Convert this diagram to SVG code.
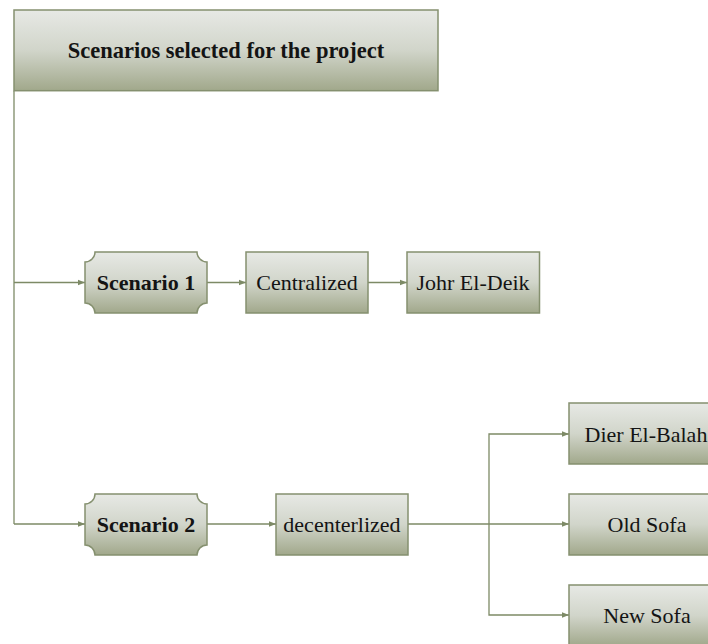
<svg xmlns="http://www.w3.org/2000/svg" width="708" height="644" viewBox="0 0 708 644">
<defs>
<linearGradient id="g" x1="0" y1="0" x2="0" y2="1">
<stop offset="0" stop-color="#e7e9e5"/>
<stop offset="0.5" stop-color="#d1d5ca"/>
<stop offset="1" stop-color="#a1a88b"/>
</linearGradient>
<marker id="ah" viewBox="0 0 10 10" refX="10" refY="5" markerWidth="7" markerHeight="7" markerUnits="userSpaceOnUse" orient="auto">
<path d="M0,1 L10,5 L0,9 Z" fill="#7d8a66"/>
</marker>
<style>
.box{fill:url(#g);stroke:#85906f;stroke-width:1.5}
.t{font-family:"Liberation Serif","Times New Roman",serif;font-size:22px;fill:#141414;text-anchor:middle}
.b{font-weight:bold}
.c{fill:none;stroke:#7d8a66;stroke-width:1.3}
</style>
</defs>
<rect width="708" height="644" fill="#ffffff"/>
<g id="connectors">
<path class="c" d="M14,90.7 V524"/>
<path class="c" d="M14,282.5 H85" marker-end="url(#ah)"/>
<path class="c" d="M14,524 H85" marker-end="url(#ah)"/>
<path class="c" d="M207,282.5 H246" marker-end="url(#ah)"/>
<path class="c" d="M368,282.5 H407" marker-end="url(#ah)"/>
<path class="c" d="M207,524 H276" marker-end="url(#ah)"/>
<path class="c" d="M408,524 H569" marker-end="url(#ah)"/>
<path class="c" d="M489,524 V434 H569" marker-end="url(#ah)"/>
<path class="c" d="M489,524 V615 H569" marker-end="url(#ah)"/>
</g>
<g id="title">
<rect class="box" x="14" y="10" width="424" height="80.7"/>
<text class="t b" x="226" y="58" style="font-size:22.5px">Scenarios selected for the project</text>
</g>
<g id="scenario1">
<path class="box" d="M95,252 H197 A10,10 0 0 0 207,262 V303 A10,10 0 0 0 197,313 H95 A10,10 0 0 0 85,303 V262 A10,10 0 0 0 95,252 Z"/>
<text class="t b" x="146" y="290">Scenario 1</text>
</g>
<g id="centralized">
<rect class="box" x="246" y="252" width="122" height="61"/>
<text class="t" x="307" y="290">Centralized</text>
</g>
<g id="johr">
<rect class="box" x="407" y="252" width="132.5" height="61"/>
<text class="t" x="473" y="290">Johr El-Deik</text>
</g>
<g id="scenario2">
<path class="box" d="M95,494 H197 A10,10 0 0 0 207,504 V545 A10,10 0 0 0 197,555 H95 A10,10 0 0 0 85,545 V504 A10,10 0 0 0 95,494 Z"/>
<text class="t b" x="146" y="531.5">Scenario 2</text>
</g>
<g id="decentralized">
<rect class="box" x="276" y="494" width="132" height="61"/>
<text class="t" x="342" y="531.5">decenterlized</text>
</g>
<g id="dier">
<rect class="box" x="569" y="403" width="156" height="61"/>
<text class="t" x="646" y="441.5">Dier El-Balah</text>
</g>
<g id="oldsofa">
<rect class="box" x="569" y="494" width="156" height="61"/>
<text class="t" x="647" y="531.5">Old Sofa</text>
</g>
<g id="newsofa">
<rect class="box" x="569" y="585" width="156" height="61"/>
<text class="t" x="647" y="622.5">New Sofa</text>
</g>
</svg>
